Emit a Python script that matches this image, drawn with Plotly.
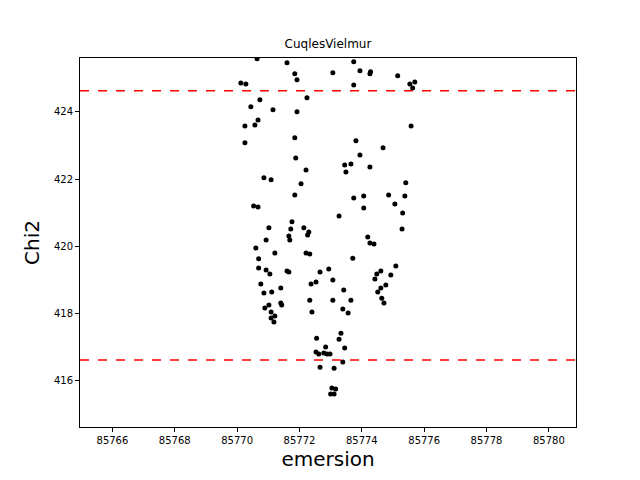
import plotly.graph_objects as go

# emersion / Chi2 values
emersion = [
    85770.64, 85771.60, 85773.74, 85771.85, 85771.92, 85773.07, 85773.94, 85774.28, 85774.26, 85775.15,
    85770.12, 85770.28, 85773.74, 85775.54, 85775.63, 85775.70, 85772.24, 85770.73, 85770.44, 85771.15,
    85771.92, 85770.67, 85770.57, 85770.25, 85775.58, 85770.25, 85771.85, 85773.81, 85774.68, 85773.94,
    85771.88, 85773.45, 85773.65, 85773.49, 85774.26, 85772.21, 85770.86, 85771.09, 85772.05, 85775.41,
    85771.85, 85773.74, 85774.06, 85774.86, 85775.38, 85774.06, 85775.06, 85770.53, 85770.67, 85775.31,
    85773.27, 85771.76, 85771.02, 85771.72, 85772.14, 85772.30, 85775.29, 85771.66, 85771.69, 85772.26,
    85770.93, 85770.60, 85771.21, 85772.21, 85772.33, 85774.19, 85774.26, 85774.39, 85773.71, 85770.69,
    85770.69, 85770.93, 85771.05, 85771.60, 85771.66, 85772.66, 85772.94, 85772.53, 85772.37, 85773.07,
    85775.09, 85774.93, 85774.61, 85774.48, 85774.42, 85770.76, 85770.86, 85771.11, 85771.40, 85773.42,
    85774.77, 85774.61, 85774.51, 85772.33, 85773.07, 85773.65, 85774.64, 85774.71, 85771.40, 85771.43,
    85771.02, 85770.89, 85771.09, 85771.21, 85771.09, 85771.18, 85772.40, 85773.39, 85773.56, 85773.33,
    85772.55, 85773.27, 85772.84, 85773.45, 85772.53, 85772.62, 85772.78, 85772.88, 85772.98, 85772.66,
    85773.11, 85773.39, 85773.04, 85773.16, 85773.00, 85773.11,
]
chi2 = [
    425.58, 425.46, 425.49, 425.13, 424.95, 425.16, 425.22, 425.19, 425.13, 425.07,
    424.86, 424.83, 424.80, 424.83, 424.71, 424.89, 424.42, 424.36, 424.15, 424.06,
    424.00, 423.76, 423.61, 423.58, 423.58, 423.08, 423.23, 423.14, 422.93, 422.72,
    422.63, 422.42, 422.45, 422.21, 422.36, 422.27, 422.04, 421.98, 421.86, 421.89,
    421.53, 421.44, 421.50, 421.53, 421.50, 421.14, 421.26, 421.20, 421.17, 420.99,
    420.90, 420.73, 420.55, 420.52, 420.55, 420.43, 420.52, 420.31, 420.19, 420.34,
    420.19, 419.95, 419.80, 419.80, 419.77, 420.28, 420.10, 420.07, 419.65, 419.63,
    419.36, 419.30, 419.18, 419.27, 419.24, 419.24, 419.33, 418.94, 418.88, 419.00,
    419.42, 419.15, 419.27, 419.18, 419.03, 418.88, 418.61, 418.64, 418.76, 418.70,
    418.85, 418.76, 418.64, 418.40, 418.40, 418.40, 418.46, 418.32, 418.32, 418.26,
    418.26, 418.17, 418.05, 417.93, 417.87, 417.75, 418.05, 418.14, 418.02, 417.42,
    417.27, 417.24, 417.01, 416.98, 416.86, 416.80, 416.83, 416.80, 416.80, 416.41,
    416.38, 416.56, 415.79, 415.76, 415.61, 415.61,
]
limits = [424.63, 416.62]
x_ticks = [85766, 85768, 85770, 85772, 85774, 85776, 85778, 85780]
y_ticks = [416, 418, 420, 422, 424]

fig = go.Figure()
fig.add_trace(go.Scatter(x=emersion, y=chi2, mode='markers',
                         marker=dict(color='black', size=5), showlegend=False))
for lim in limits:
    fig.add_hline(y=lim, line=dict(color='red', dash='dash', width=1.5))

fig.update_layout(
    width=640, height=480,
    margin=dict(l=72, r=72, t=50, b=61),
    paper_bgcolor='white', plot_bgcolor='white',
    font=dict(family='DejaVu Sans', color='black', size=10),
    title=dict(text='CuqlesVielmur', x=0.5, xanchor='center', y=1 - 36 / 480,
               yanchor='middle', font=dict(size=12)),
)
axis = dict(showline=True, linecolor='black', mirror=True, showgrid=False, zeroline=False,
            ticks='outside', ticklen=4, tickcolor='black')
fig.update_xaxes(axis, range=[85764.96, 85780.87], tickvals=x_ticks,
                 ticktext=[str(t) for t in x_ticks],
                 title=dict(text='emersion', font=dict(size=20), standoff=6))
fig.update_yaxes(axis, range=[414.63, 425.6], tickvals=y_ticks,
                 title=dict(text='Chi2', font=dict(size=20), standoff=8))

fig.write_html("out.html")
